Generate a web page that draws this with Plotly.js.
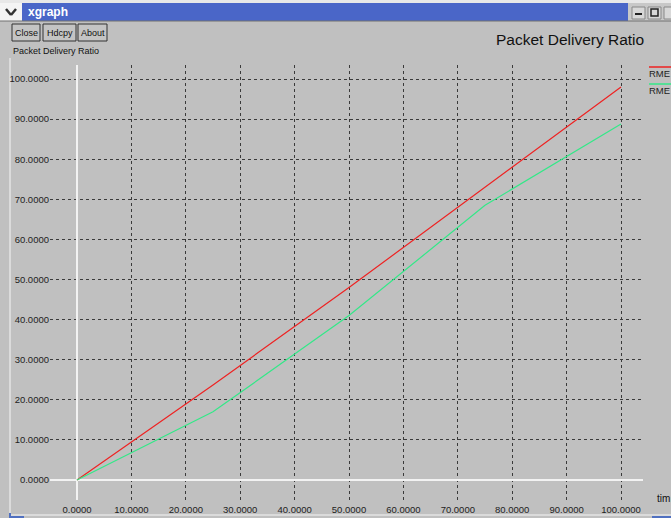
<!DOCTYPE html>
<html>
<head>
<meta charset="utf-8">
<script src="https://cdn.plot.ly/plotly-3.0.1.min.js"></script>
<style>html,body{margin:0;padding:0;background:#c0c0c0;overflow:hidden}#chart{width:671px;height:518px}</style>
</head>
<body>
<div id="chart"></div>
<script>
// Data
const timeValues = [0, 25, 50, 75, 100];
const series1Name = "RME";
const series1Values = [0, 23.7, 48, 73, 98];
const series2Name = "RME";
const series2Values = [0, 17, 41, 68.5, 88.8];
const tickValues = [0, 10, 20, 30, 40, 50, 60, 70, 80, 90, 100];

const W = 671, H = 518;
const M = {l: 50, r: 28, t: 65, b: 18};
const pw = W - M.l - M.r, ph = H - M.t - M.b;
const px = v => (v - M.l) / pw;
const py = v => 1 - (v - M.t) / ph;

const shapes = [];
const annotations = [];
function rect(x0, y0, x1, y1, fill, line, lw) {
  shapes.push({type: 'rect', xref: 'paper', yref: 'paper', x0: px(x0), x1: px(x1), y0: py(y1), y1: py(y0),
    fillcolor: fill, line: {color: line || fill, width: lw === undefined ? 0 : lw}, layer: 'below'});
}
function seg(x0, y0, x1, y1, color, w, layer) {
  shapes.push({type: 'line', xref: 'paper', yref: 'paper', x0: px(x0), x1: px(x1), y0: py(y0), y1: py(y1),
    line: {color: color, width: w}, layer: layer || 'above'});
}
function text(x, y, t, size, color, anchor, opts) {
  annotations.push(Object.assign({xref: 'paper', yref: 'paper', x: px(x), y: py(y), text: t, showarrow: false,
    xanchor: anchor || 'left', yanchor: 'middle', borderpad: 0,
    font: {family: 'Liberation Sans, Arial, sans-serif', size: size, color: color}}, opts || {}));
}

// window chrome
rect(0, 0, 671, 3, '#e8e8e8');
rect(0, 3, 22, 21, '#f4f4f4');
rect(22, 3, 628, 21, '#4a66c8');
rect(628, 3, 671, 21, '#c8c8c8');
rect(632, 7, 645, 19, '#d8d8d8', '#888', 1);
seg(635, 14, 642, 14, '#222', 2);
rect(648, 7, 661, 19, '#d8d8d8', '#888', 1);
rect(651, 9, 658, 16, 'rgba(0,0,0,0)', '#222', 1.5);
rect(664, 7, 677, 19, '#d8d8d8', '#888', 1);
seg(6, 9, 11, 15, '#333', 2.5);
seg(11, 15, 16, 9, '#333', 2.5);
text(27, 12, '<b>xgraph</b>', 12, '#ffffff', 'left');
seg(0, 21, 671, 21, '#707070', 1);

// buttons
const buttons = [['Close', 12, 40], ['Hdcpy', 43, 76], ['About', 78, 107]];
buttons.forEach(b => {
  rect(b[1], 24, b[2], 41, '#c4c4c4', '#333', 1);
  text((b[1] + b[2]) / 2, 32.5, b[0], 9, '#111', 'center');
});

// borders
seg(10, 58, 10, 515, '#e4e4e4', 1.5, 'below');
seg(10, 515, 671, 515, '#e4e4e4', 1.5, 'below');
seg(10, 513, 10, 518, '#5070c0', 2, 'below');
seg(10, 517, 24, 517, '#5070c0', 2, 'below');
seg(652, 517, 671, 517, '#5070c0', 2, 'below');

// labels
text(12, 51, 'Packet Delivery Ratio', 9, '#111', 'left');
text(645, 40, 'Packet Delivery Ratio', 15.5, '#111', 'right');
text(656, 498, 'tim', 10, '#111', 'left');

// legend
seg(649, 67, 672, 67, '#ee2222', 1.5);
text(648, 73, series1Name, 9.5, '#222', 'left');
seg(649, 84, 672, 84, '#33e888', 1.5);
text(648, 90, series2Name, 9.5, '#222', 'left');

const traces = [
  {x: timeValues, y: series1Values, type: 'scatter', mode: 'lines', name: series1Name,
   line: {color: '#ee2222', width: 1.2}, cliponaxis: false},
  {x: timeValues, y: series2Values, type: 'scatter', mode: 'lines', name: series2Name,
   line: {color: '#33e888', width: 1.2}, cliponaxis: false}
];

const xr = [(M.l - 77) / 5.44, (W - M.r - 77) / 5.44];
const yr = [(480 - (H - M.b)) / 4.01, (480 - M.t) / 4.01];

const axisCommon = {
  showgrid: true, gridcolor: '#3a3a3a', griddash: 'dot', gridwidth: 1,
  zeroline: true, zerolinecolor: '#f2f2f2', zerolinewidth: 1.5,
  showline: false, ticks: '', tickvals: tickValues, tickformat: '.4f',
  tickfont: {family: 'Liberation Sans, Arial, sans-serif', size: 9.5, color: '#222'},
  fixedrange: true
};

const layout = {
  width: W, height: H,
  margin: M,
  paper_bgcolor: '#c0c0c0', plot_bgcolor: '#c0c0c0',
  showlegend: false,
  xaxis: Object.assign({}, axisCommon, {range: xr, ticklabelstandoff: 2}),
  yaxis: Object.assign({}, axisCommon, {range: yr, ticklabelstandoff: 0}),
  shapes: shapes,
  annotations: annotations
};

Plotly.newPlot('chart', traces, layout, {displayModeBar: false, staticPlot: true});
</script>
</body>
</html>
